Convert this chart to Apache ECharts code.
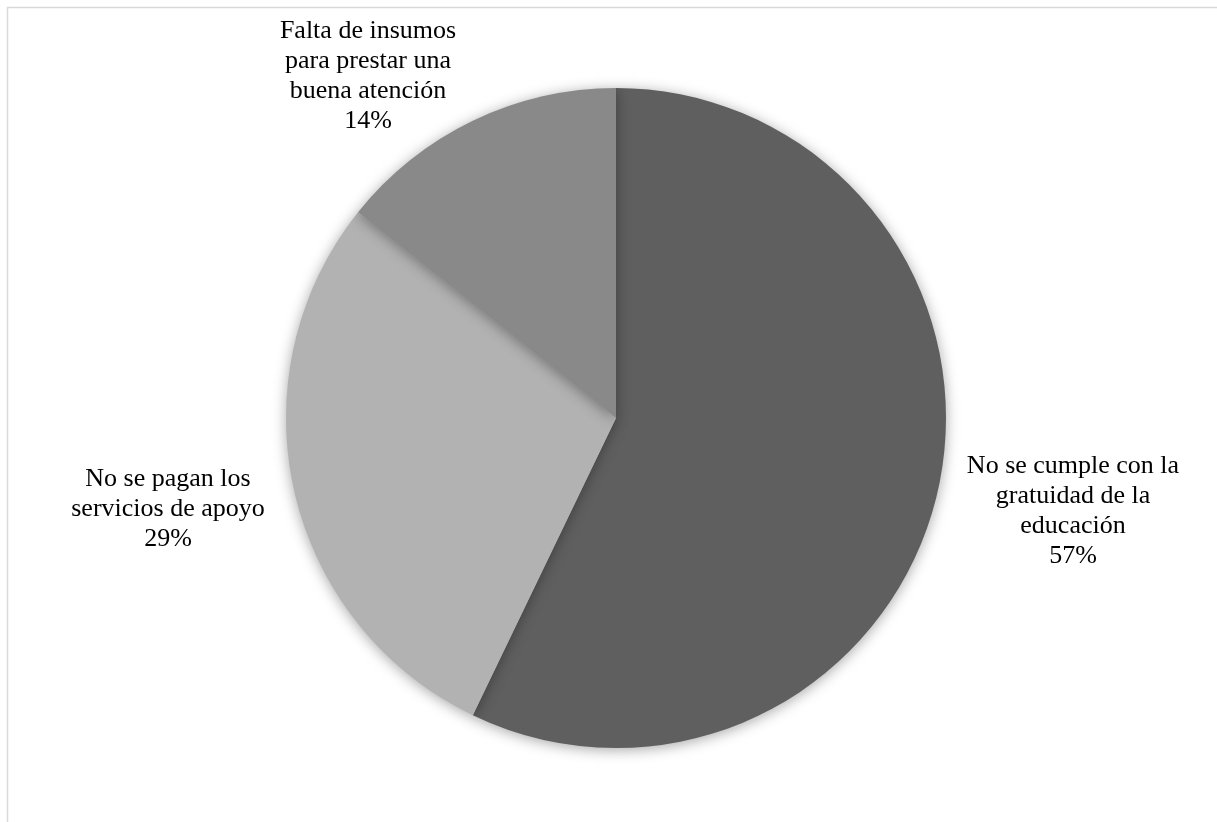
<!DOCTYPE html>
<html>
<head>
<meta charset="utf-8">
<script src="https://cdn.jsdelivr.net/npm/echarts@6/dist/echarts.min.js"></script>
<style>html,body{margin:0;padding:0;background:#fff;}#c{width:1217px;height:822px;}</style>
</head>
<body>
<div id="c"></div>
<script>
const categories = [
  'No se cumple con la\ngratuidad de la\neducación',
  'No se pagan los\nservicios de apoyo',
  'Falta de insumos\npara prestar una\nbuena atención'
];
const values = [4, 2, 1];
const colors = ['#5f5f5f', '#b2b2b2', '#898989'];

const labelPos = [
  {x: 1073, y: 511},
  {x: 168, y: 509},
  {x: 368, y: 76}
];

const chart = echarts.init(document.getElementById('c'), null, {renderer: 'canvas'});
chart.setOption({
  animation: false,
  backgroundColor: '#fff',
  graphic: [{
    type: 'rect',
    shape: {x: 7.5, y: 7.5, width: 1300, height: 900},
    style: {fill: 'none', stroke: '#d9d9d9', lineWidth: 1.5},
    silent: true
  }],
  series: [{
    type: 'pie',
    center: [616, 418],
    radius: [0, 330],
    startAngle: 90,
    clockwise: true,
    percentPrecision: 0,
    data: categories.map((n, i) => ({name: n, value: values[i], itemStyle: {color: colors[i]}})),
    itemStyle: {
      borderWidth: 0,
      shadowBlur: 14,
      shadowColor: 'rgba(0,0,0,0.35)',
      shadowOffsetX: 0,
      shadowOffsetY: 2
    },
    label: {
      show: true,
      position: 'outside',
      formatter: '{b}\n{d}%',
      fontFamily: 'Liberation Serif',
      fontSize: 26,
      lineHeight: 30,
      color: '#000',
      align: 'center'
    },
    labelLine: {show: false},
    labelLayout: function (p) {
      const pos = labelPos[p.dataIndex];
      return {x: pos.x, y: pos.y, align: 'center', verticalAlign: 'middle'};
    }
  }]
});
</script>
</body>
</html>
